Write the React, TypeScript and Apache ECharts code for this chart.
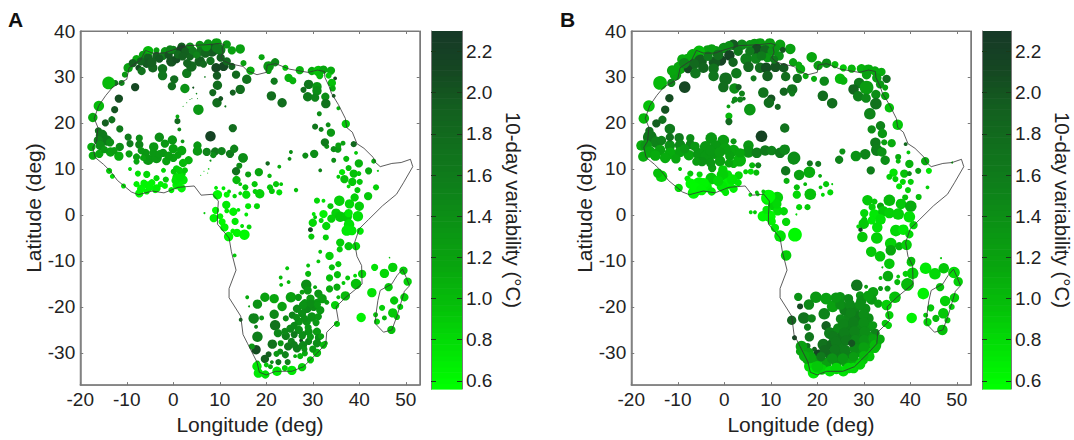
import React, { useEffect, useRef } from "react";
import * as echarts from "echarts";

type Station = [number, number, number, number]; // lon, lat, marker diameter, 10-day variability

const colorStops = ["#00ff00", "#02e005", "#05c009", "#08a60e", "#0b9414", "#0e801a", "#11701d", "#135f1f", "#154622", "#163828"];
const lonTicks = [-20, -10, 0, 10, 20, 30, 40, 50];
const latTicks = [-30, -20, -10, 0, 10, 20, 30, 40];
const barTicks = [0.6, 0.8, 1.0, 1.2, 1.4, 1.6, 1.8, 2.0, 2.2];
const barMin = 0.56;
const barMax = 2.3;
const barLevels = 64;

const coast: [number, number][] = [
  [-6, 35.8], [-4.5, 35.2], [-2, 35.2], [0, 35.9], [3, 36.8], [7, 37], [10, 37.3], [11, 37], [10.5, 36.4], [10.7, 35.3], [10.2, 34.2], [11, 33.4], [12.5, 32.8], [15, 32.3], [16, 31.3], [18, 30.5], [20, 31], [20.2, 32.6], [22, 32.9], [25, 31.7], [29, 31], [31, 31.5], [32.5, 31.2], [32.6, 29.9], [33.5, 28], [34, 26.5], [35.5, 24], [37, 21], [37.3, 19], [38.5, 18], [39.5, 15.5], [41, 14.5], [43, 12.5], [43.4, 11.5], [44.5, 10.5], [47, 11.2], [49, 11.4], [51, 12.1], [51.5, 10.5], [49.5, 7], [48, 4.5], [45, 2], [42, -1], [40, -3], [39, -6], [39.5, -9], [40.5, -11], [40.6, -15], [37, -18], [35, -20], [35.5, -23], [33, -25.5], [32.8, -28], [31, -30], [28, -33], [25.5, -34], [22, -34], [20, -34.8], [18.5, -34.2], [18, -32], [16, -28], [15, -26], [14.5, -22], [12, -18], [12, -16], [13.5, -12], [12.5, -8], [12, -5], [9.5, -2], [9.5, 0], [9.7, 3], [8.5, 4.5], [6, 4.3], [4.5, 6.3], [1, 6], [-2, 4.8], [-4.5, 5.2], [-7.5, 4.4], [-9, 5], [-12, 7.5], [-13.5, 9.5], [-15, 11], [-16.8, 12.5], [-17.3, 14.7], [-16.5, 16], [-16.2, 19], [-17, 21], [-16, 23.8], [-14.5, 26], [-13, 27.8], [-10, 29.5], [-9.5, 32], [-7, 33.7], [-6, 35.8],
];
const madagascar: [number, number][] = [
  [49.3, -11.8], [50.1, -13.6], [50.8, -15.4], [49.7, -16.6], [49, -19], [48.1, -22], [47, -25], [45.2, -25.5], [43.4, -23.6], [43.6, -21.5], [44, -18.6], [44.5, -16.4], [47, -15], [48.1, -13.2], [49.3, -11.8],
];

const northA: Station[] = [
  [9.3, 37.3, 9, 1.25], [7.5, 37.3, 7, 1.3], [5.7, 37, 7, 1.3], [3.6, 36.6, 7, 1.4], [1.8, 36.6, 7, 1.9], [0, 35.9, 7, 1.55], [-1.8, 35.6, 7, 1.3], [-3.6, 35.8, 5, 1.2], [-5.4, 35.6, 9, 1.0], [-6.5, 34.8, 7, 1.25], [-7.9, 33.9, 7, 1.1], [-9.7, 32, 8, 1.2], [-10.4, 30.5, 5, 1.3], [-12.5, 28.7, 5, 1.7], [-11.1, 28.7, 5, 1.5], [-13.9, 28.7, 11, 1.0], [-16, 23.7, 9, 1.0], [-17.3, 21.2, 8, 1.1], [-11.7, 25.3, 7, 2.05], [-8.2, 27.8, 7, 2.1], [-12.6, 22.9, 6, 2.0], [-13.2, 20.7, 6, 1.7], [-14.6, 20, 6, 1.9], [-11.5, 18.7, 6, 1.6], [-16.1, 18.3, 6, 1.7],
  [1.8, 35.9, 9, 2.1], [-0.4, 33.4, 9, 2.0], [0.7, 33.9, 7, 2.05], [3.6, 34.5, 7, 1.85], [5.7, 33.4, 9, 1.9], [8.3, 35.8, 11, 1.95], [5.9, 35.6, 8, 1.7], [10.1, 35.9, 9, 1.6], [-5.4, 34.1, 8, 1.9], [-7.5, 32, 5, 2.05], [-5.7, 33, 8, 1.95], [-4.4, 32, 8, 1.85], [-6.8, 31.3, 7, 1.7], [-2.3, 31.8, 8, 1.7], [-2.3, 30.3, 8, 1.65], [2.9, 30.8, 8, 1.6], [3.9, 32.3, 9, 1.8], [0.2, 29.5, 7, 1.75], [-0.3, 28, 7, 1.75], [2.5, 27.5, 8, 1.35],
  [4.3, 27.7, 2, 2.0], [5, 26.4, 1.5, 1.5], [4, 25.3, 1, 1.4], [3.6, 25.1, 1, 1.4], [5.2, 25.3, 1, 1.4], [2.1, 23.6, 1, 1.2], [2.9, 24.4, 1, 1.2], [5.4, 22.9, 9, 1.3], [0.9, 21.4, 3, 1.1], [0.9, 20.4, 5, 1.8], [1.3, 18.6, 3, 1.4],
  [9.2, 32, 8, 2.1], [10.8, 32.3, 8, 2.1], [12.6, 32.3, 6, 1.9], [9.4, 30.3, 7, 1.95], [13.5, 30.5, 7, 1.8], [15.8, 29.5, 8, 1.7], [9.5, 28.2, 8, 1.75], [14.4, 27.3, 8, 1.75], [12.8, 26.6, 5, 1.9], [8.5, 26.6, 6, 1.8], [9.4, 24.4, 8, 1.75], [10.2, 25.3, 4, 2.0], [15.1, 33, 5, 1.2], [16.6, 31.4, 7, 1.1], [11.2, 23.6, 2, 1.6], [6.8, 30, 1.5, 1.6],
  [19, 34.3, 5, 1.15], [14.4, 36.1, 8, 1.2], [12.6, 35.8, 7, 1.2], [11.5, 37.1, 7, 1.3], [20.5, 32.3, 9, 1.3], [21.9, 33.2, 7, 1.45], [20.5, 31.3, 5, 1.25], [24.1, 32, 5, 0.95], [27.2, 31.5, 7, 1.05], [29.8, 31.3, 7, 1.1], [31.2, 31.3, 9, 0.95], [32.3, 31.6, 7, 1.15], [33.9, 31.4, 7, 1.1], [31.5, 30.3, 6, 1.0], [33.4, 30.3, 5, 0.9], [34.8, 29.7, 3, 2.1], [34.1, 28.7, 7, 0.95], [34.3, 27.5, 5, 1.1], [34.5, 25.9, 3, 1.9],
  [21.7, 29.1, 6, 1.6], [24.8, 29.8, 7, 1.05], [25.7, 29.2, 6, 1.05], [29.1, 28.4, 8, 1.65], [28, 27.2, 5, 1.75], [30.9, 27.9, 8, 1.3], [30.9, 27, 8, 1.4], [28.9, 25.7, 8, 1.6], [30.5, 25.5, 7, 1.5], [32.7, 25.7, 7, 1.4], [32.8, 24.2, 8, 1.7], [21.1, 25.9, 8, 1.75], [23.4, 24.4, 8, 1.75], [35.5, 23.2, 3, 1.05], [31.4, 22, 4, 1.4], [37.1, 19.8, 7, 0.9], [30.5, 19.2, 5, 1.65], [31.8, 18.6, 4, 1.5], [33.3, 19.6, 4, 1.4], [33.9, 17.9, 7, 1.3], [12.8, 18.9, 7, 1.75], [8, 17.1, 9, 2.15],
  [-3.6, 34.6, 7, 1.9], [-2.2, 34.6, 7, 1.6], [-1, 34.8, 7, 2.0], [1, 34.9, 7, 1.8], [2.6, 35.6, 7, 1.9], [4.2, 35.7, 7, 1.6], [6.9, 35.2, 8, 1.85], [7.1, 36.6, 8, 1.3], [9.3, 36.3, 8, 1.6], [10.2, 34.2, 7, 1.9], [11.5, 33.4, 7, 1.8], [-7, 33.4, 7, 1.85], [-8.7, 33, 7, 1.9],
  [-0.7, 36, 7, 1.5], [-3, 34, 7, 1.95], [-4.6, 33.2, 8, 1.9], [2, 34.5, 7, 1.9], [3, 33, 7, 1.85], [6.5, 32.8, 6, 1.8], [8, 33.5, 7, 1.7], [5, 34.8, 6, 1.5],
];
const westA: Station[] = [
  [-15.4, 17.3, 10, 1.6], [-14.3, 16.2, 9, 1.6], [-16.1, 16.2, 8, 1.5], [-15.7, 15.1, 8, 1.4], [-13.6, 15.8, 7, 1.4], [-17.6, 14.8, 7, 1.1], [-9.7, 16.9, 6, 1.6], [-11.5, 14.8, 7, 1.4], [-9.3, 15.5, 6, 1.6], [-7.3, 16.7, 6, 1.4], [-7.3, 15.3, 7, 1.5], [-3, 16.9, 8, 1.4], [-0.2, 16.3, 8, 1.3], [2, 16, 3, 1.3], [-4.2, 14.8, 8, 1.3], [-1.8, 15.5, 7, 1.3], [0, 14.4, 8, 1.2], [1.8, 14, 8, 1.15], [5.2, 15.1, 7, 1.3], [5.2, 13.9, 8, 1.3], [7.2, 13.7, 7, 1.5], [9, 13.8, 7, 1.6], [10.4, 13.9, 7, 1.5], [8.6, 13, 5, 1.4], [12.2, 13.3, 7, 1.6], [13.1, 14.4, 7, 1.5],
  [-15.9, 13.3, 7, 1.15], [-17.3, 12.9, 7, 1.1], [-13.5, 13.7, 8, 1.2], [-11.7, 12.8, 8, 1.1], [-9.5, 13.3, 6, 1.2], [-7.9, 12.6, 6, 1.2], [-6, 13.5, 7, 1.3], [-5.4, 12, 9, 1.3], [-3.6, 12.4, 9, 1.3], [-2.2, 13.5, 7, 1.3], [-4.3, 13.5, 7, 1.3], [-1.5, 11.7, 7, 1.2], [0, 12.4, 7, 1.2], [3.3, 11.9, 7, 1.05], [2.1, 11.3, 7, 1], [-7.9, 11.6, 5, 1.15], [-6.5, 12.4, 5, 1.2], [15, 12.4, 8, 1.4],
  [-14.8, 14.2, 6, 1.3], [-12.7, 14, 6, 1.25], [-3, 13.2, 7, 1.3], [-1, 12.9, 7, 1.25], [-6.9, 14, 6, 1.3], [1, 13, 6, 1.2],
  [-7.6, 9, 5, 0.75], [-5.7, 8.8, 6, 0.8], [-3.6, 8, 5, 0.8], [-1.6, 7.7, 5, 0.9], [-9.3, 10, 3, 0.8], [-13.1, 8.4, 4, 0.75], [-13.8, 9.6, 5, 0.9], [-7.9, 6.7, 5, 0.65], [-5.4, 6.4, 7, 0.62], [-6.9, 5.7, 7, 0.6], [-3.6, 5.8, 7, 0.65], [-1.8, 6.3, 5, 0.65], [0.7, 10, 6, 0.85], [1.8, 9, 7, 0.8], [0.7, 8.2, 7, 0.75], [2.1, 7.6, 8, 0.7], [0.7, 6.5, 7, 0.65], [1.8, 5.8, 7, 0.62], [-0.4, 5.4, 5, 0.68], [-7.3, 4.7, 7, 0.62], [-5.7, 5.1, 5, 0.65], [-3.9, 5.4, 5, 0.65], [-10.7, 6.3, 4, 0.8], [0.1, 9.4, 5, 0.9], [2.5, 9.7, 5, 0.9], [-2.1, 9.7, 4, 0.8], [6.6, 9.5, 1, 0.9], [7.4, 9.1, 1, 0.9], [5.9, 8.6, 1, 0.9], [7.6, 10, 1.5, 0.9], [8, 11.8, 2, 1.3],
  [-5, 6, 6, 0.62], [-6.3, 6.9, 6, 0.62], [-4.6, 7, 6, 0.62], [-2.7, 6.7, 5, 0.65], [1.2, 7, 7, 0.68], [0.5, 7.5, 7, 0.72], [1.5, 8.2, 7, 0.75], [1.3, 9.7, 6, 0.85],
];
const centralA: Station[] = [
  [15, 12.4, 8, 1.4], [14.2, 10.7, 5, 1.4], [13.5, 9.5, 7, 1.7], [20.3, 11.2, 3.5, 1.8], [22.8, 10.5, 3, 1.1], [16.1, 8.8, 5, 1.2], [18.4, 9.3, 7, 1.15], [20.7, 8.5, 3.5, 1.0], [13.6, 7.6, 7, 1.0], [14.4, 6.7, 3, 0.9], [17.5, 6.7, 5, 0.9], [15.5, 6, 5, 0.9], [22.1, 6.7, 5, 0.9], [23.2, 6.7, 3, 0.9], [20.8, 6, 5, 0.9], [21.2, 5.2, 5, 0.9], [22.8, 4.9, 5, 0.75], [18.6, 4.6, 8, 0.85], [15.7, 4.4, 7, 0.75], [17.6, 5.1, 4, 0.85], [14.4, 4.7, 3, 0.8], [13.2, 4.1, 3.5, 0.8], [12, 5.1, 3, 0.8], [10.8, 5.8, 3, 0.7], [9.2, 5.9, 3, 0.7], [9.5, 4.4, 8, 0.6], [11.5, 4.4, 5, 0.62], [11.4, 2.2, 7, 0.7], [11.5, 0.9, 4, 0.7], [12.9, 0.7, 7, 0.65], [14, 1.1, 3, 0.7], [16.1, 1.9, 5, 0.7], [18, 1.9, 5, 0.8], [15.7, 0.1, 3, 0.7], [13.3, -1.4, 6, 0.7], [9.1, 1, 6, 0.6], [8.7, -0.7, 7, 0.65], [10.1, -0.3, 5, 0.62], [10.5, -1.5, 6, 0.6], [11, -2.7, 7, 0.62], [15.3, -4.3, 9, 0.6], [13.7, -3.9, 7, 0.62], [12.8, -3.5, 4, 0.62], [11.9, -4.7, 8, 0.6], [16.3, -2.6, 4, 0.8], [14.8, -2.4, 3, 0.75], [13.2, -8.8, 3, 0.9], [6.7, 0.4, 2, 0.9], [26.4, 5.4, 3.5, 0.95],
];
const eastA: Station[] = [
  [30.3, 13.3, 7, 1.4], [28.4, 12.9, 5, 1.4], [25, 12.2, 3, 1.4], [25.3, 13.7, 3, 1.4], [31.6, 9.7, 3, 1.5], [34.5, 11.9, 4, 1.4], [37.2, 12.2, 5, 1.0], [39.3, 13.5, 3, 0.9], [39.9, 11.2, 7, 1.05], [37.7, 10.2, 5, 0.95], [42, 9.6, 6, 1.1], [43.1, 11.7, 4, 1.1], [44, 9.6, 2, 0.9], [36.3, 9.3, 5, 0.7], [38.8, 9, 7, 0.95], [39.9, 9, 4, 0.9], [35.5, 8.3, 3, 0.9], [36.8, 7.8, 7, 0.95], [38.5, 7.2, 7, 0.9], [40.1, 7.2, 5, 0.9], [37.7, 6.2, 3, 0.8], [39.6, 5.4, 5, 0.9], [43.6, 6, 5, 0.85], [41.9, 4.1, 7, 0.9], [39, 3.8, 7, 0.85], [35.7, 3.1, 9, 0.85], [37.9, 2.4, 8, 0.8], [40, 1.9, 8, 0.85], [30.9, 3.1, 5, 0.8], [32.3, 3.1, 3, 0.75], [33.8, 1.9, 5, 0.9], [32.3, 0.2, 7, 0.65], [30.2, 0.2, 3, 0.7], [30.5, -0.5, 3, 0.9], [35, 0.4, 8, 0.85], [35.9, -0.4, 9, 0.9], [37.3, -0.4, 9, 0.9], [39.7, -0.3, 9, 0.75], [37.7, 0.4, 7, 0.7], [31.8, -1.2, 4, 0.8], [30, -1.7, 7, 0.8], [32.9, -2.4, 7, 0.8], [34, -0.8, 7, 0.85], [29.5, -3.2, 4, 2.1], [37.8, -2.1, 9, 0.75], [37.3, -3.4, 9, 0.7], [38.4, -3.4, 8, 0.7], [40.2, -3.5, 6, 0.7], [29.7, -4.7, 5, 0.9], [32.8, -4.9, 5, 0.85], [35.9, -6, 7, 0.85], [37.7, -6.8, 7, 0.9], [35.8, -7.5, 5, 0.85], [39.3, -6.8, 7, 0.8], [31.6, -8, 3, 0.9], [33.6, -8.9, 7, 0.85], [31.2, -10.1, 3, 0.9], [34.5, 14.3, 5, 1.4], [33, 14.9, 4, 1.35], [35.4, 14.3, 6, 1.3], [35.5, 15.1, 5, 1.2], [36.5, 15.6, 4, 1.2], [32.6, 15.8, 7, 1.6], [38.8, 15.4, 5, 1.8],
];
const southA: Station[] = [
  [35.5, -10.7, 5, 0.9], [29, -11, 3, 0.95], [34.1, -11.4, 5, 0.95], [24.5, -11.6, 3, 0.9], [40.6, -12.8, 7, 0.8], [35.3, -13, 6, 0.95], [33.6, -13.7, 6, 0.95], [29, -12.8, 5, 1.0], [23.1, -13.6, 3, 1.0], [24.8, -14.6, 3, 1.0], [23.2, -15.2, 3, 1.0], [37.5, -13.7, 4, 0.9], [39.1, -13.2, 3, 0.8], [39.3, -15, 9, 0.95], [36.6, -14.8, 3, 0.9], [35.2, -15.7, 6, 1.1], [33.6, -16.1, 6, 1.1], [30.5, -15.7, 3, 1.1], [28.6, -15.2, 9, 1.4], [28.9, -16.4, 7, 1.3], [27.7, -16.8, 4, 1.2], [37, -17.6, 8, 1.0], [35.5, -17.9, 3, 1.0], [34.8, -19.6, 7, 0.85], [29.5, -18.2, 7, 1.25], [31.2, -17.1, 7, 1.3], [32, -18.2, 8, 1.25], [33, -19, 4, 1.2], [25.3, -17.9, 9, 1.2], [26.9, -17.9, 6, 1.3], [21.7, -18.2, 8, 1.15], [19.7, -17.9, 8, 1.2], [23.4, -19.9, 8, 1.2], [18.1, -19.4, 8, 1.35], [15.9, -17.9, 3, 1.1], [16.3, -19.9, 2, 1.2],
  [26.6, -20.4, 7, 1.4], [28.7, -20.2, 9, 1.45], [30.2, -20, 7, 1.4], [31.6, -20.7, 7, 1.3], [27.7, -21.4, 7, 1.4], [29.8, -22.2, 8, 1.35], [30.7, -23.4, 6, 1.3], [28.7, -23.2, 7, 1.35], [27, -23.2, 7, 1.35], [25.2, -24.7, 7, 1.45], [27, -25, 7, 1.4], [29.1, -25.4, 7, 1.35], [30.9, -25.4, 7, 1.25], [35.2, -23.7, 5, 0.9], [21.7, -21.6, 8, 1.45], [17.3, -22.5, 9, 1.5], [19, -22.4, 4, 1.3], [14.5, -22.8, 3, 1.8], [17.8, -24.3, 3, 1.5], [21.9, -24, 9, 1.7], [22.5, -25.7, 7, 1.45], [18.1, -26.5, 9, 1.55], [21.3, -28.1, 8, 1.7], [23.1, -27.9, 5, 1.3], [24.7, -28.6, 7, 1.6], [26.6, -29, 7, 1.55], [28, -26.5, 3, 2.1], [27.5, -27.3, 3, 2.1], [29.1, -27.5, 6, 1.5], [30.9, -27.9, 7, 1.4], [32.7, -27.9, 4, 1.0], [23, -29.7, 5, 1.4], [24.1, -30.4, 6, 1.5], [20.5, -30.3, 5, 1.9], [17.8, -29.3, 8, 2.05], [16.9, -28.6, 5, 1.3], [19.7, -31.3, 7, 1.9], [22.6, -32, 5, 1.6], [24.6, -32, 5, 1.5], [21.2, -32, 3, 1.4], [20.9, -33, 4, 1.1], [18.1, -32.2, 4, 1.1], [18, -32.9, 8, 0.7], [18.3, -34.4, 8, 0.7], [19.8, -34.7, 7, 0.75], [22.3, -34, 8, 0.7], [25.5, -33.8, 8, 0.7], [27.7, -33.1, 7, 0.85], [29.5, -31.5, 6, 0.9], [30.9, -30, 7, 1.0], [32.3, -28.3, 6, 1.0], [27.3, -30.7, 5, 1.0], [26.2, -30.7, 3, 1.1],
  [25.6, -21.8, 6, 1.5], [24.2, -22.5, 5, 1.4], [28.3, -19.2, 7, 1.35], [30.9, -19, 6, 1.3], [26, -26, 6, 1.6], [24.2, -26.3, 7, 1.55], [28, -25.9, 5, 1.4], [25.4, -27.5, 6, 1.5], [27.9, -28.3, 7, 1.45], [30, -29.2, 6, 1.3], [28.3, -30.1, 5, 1.1], [22.2, -30.2, 5, 1.3], [20, -32.6, 4, 0.9], [24, -33.3, 5, 0.85], [31.2, -26.7, 6, 1.4],
  [27.9, -19.6, 7, 1.35], [29.6, -19.3, 7, 1.4], [31, -19.5, 6, 1.3], [26.5, -22.3, 6, 1.4], [28.2, -22.5, 6, 1.4], [31.2, -22.1, 6, 1.3], [29, -24.5, 6, 1.3], [26, -24, 6, 1.45], [24, -25.3, 6, 1.45], [27.7, -26.3, 6, 1.4], [29.5, -26.5, 6, 1.3], [26, -28.2, 6, 1.55], [28.2, -29.2, 5, 1.35], [31.8, -26.4, 5, 1.2],
];
const madagascarA: Station[] = [
  [43.3, -11.4, 6, 0.75], [45.4, -12.7, 8, 0.8], [47.2, -11.4, 8, 0.85], [46.5, -9.3, 1.5, 0.9], [49.5, -12.1, 7, 0.9], [50.4, -14.5, 7, 0.85], [46.3, -15.7, 7, 0.9], [42.7, -16.9, 8, 0.75], [49.7, -17.9, 7, 0.85], [47.5, -18.6, 7, 0.9], [44.9, -20.2, 5, 0.85], [47.2, -21.3, 8, 0.9], [40.4, -22.3, 8, 0.65], [43.5, -21.7, 4, 0.9], [45.4, -22.4, 4, 1.0], [43.8, -23.2, 5, 0.85], [46.9, -25, 7, 0.95], [48.8, -20, 5, 0.85], [48.1, -22.2, 5, 0.9],
];

const northB: Station[] = [
  [-13.8, 28.7, 12, 1.0], [-16.2, 23.7, 10, 0.95], [-17.3, 21, 9, 1.0], [-11.8, 25.4, 7, 2.05], [-8.5, 27.8, 10, 2.1], [-12.7, 22.9, 7, 2.0], [-13.3, 20.7, 7, 1.7], [-14.6, 19.9, 7, 1.9], [-11.7, 18.7, 9, 1.6], [-16.1, 18.3, 7, 1.7],
  [14.2, 36.1, 9, 1.2], [12, 37, 9, 1.2], [9.8, 37.3, 9, 1.25], [7.7, 37.3, 9, 1.25], [5.5, 37, 8, 1.3], [3.8, 37, 9, 1.45], [1.9, 37, 9, 1.95], [-0.1, 36.3, 9, 1.4], [-1.8, 35.6, 9, 1.3], [-3.6, 35.9, 8, 1.2], [-5.4, 35.6, 10, 1.0], [-6.8, 34.8, 10, 1.1], [-7.9, 33.9, 9, 1.1], [-9.6, 32, 11, 1.15], [-10.5, 30.5, 10, 1.2], [-11.4, 28.7, 7, 1.5],
  [-9, 33.8, 9, 1.1], [-11.2, 31.4, 9, 1.15], [-2.7, 36.1, 8, 1.2], [1, 36.8, 8, 1.4], [6.5, 37.3, 8, 1.3], [11, 36.2, 8, 1.3], [11.8, 34.6, 8, 1.35], [16, 32.6, 6, 1.1], [12.6, 35.9, 5, 2.0],
  [7, 35.9, 10, 2.05], [8.8, 35.8, 9, 1.8], [1.1, 34.7, 9, 2.15], [-0.7, 33.6, 9, 2.15], [-2.1, 33.2, 10, 1.95], [1.9, 33.2, 8, 1.85], [4.7, 33.9, 10, 1.55], [6.8, 34, 9, 1.5], [9.3, 34.2, 8, 1.3], [-5.1, 33.5, 11, 1.9], [-6.5, 32.8, 9, 1.8], [-7.8, 31.7, 7, 2.1], [-4.5, 32, 9, 1.85], [-6.2, 30.8, 9, 1.65], [-2.3, 31.8, 9, 1.7], [-2.3, 30.2, 9, 1.65], [0.3, 29.6, 11, 1.75], [-0.2, 27.8, 9, 1.75], [2.2, 27.5, 9, 1.4], [2.6, 30.8, 9, 1.6], [5.2, 32.2, 9, 1.8], [6.3, 29.7, 5, 1.6], [3.1, 27.8, 5, 1.9], [3.8, 26.4, 5, 1.5], [2.3, 25.1, 5, 1.4], [3.4, 25.1, 5, 1.5], [4.2, 25.3, 3, 1.6], [0.9, 23.6, 3, 1.2], [1.9, 24.6, 3, 1.5], [5.5, 22.9, 10, 1.3], [1, 21.5, 6, 1.0], [1, 20.3, 6, 1.8], [13, 18.9, 8, 1.7], [8, 17.1, 10, 2.15],
  [7.7, 32, 9, 1.75], [9, 32, 9, 2.05], [11, 32.2, 9, 2], [12.8, 32, 8, 1.95], [9.3, 30.2, 9, 1.9], [13.2, 30.1, 8, 1.75], [15.7, 29.7, 8, 1.7], [8.4, 26.6, 9, 1.7], [10.1, 25.3, 7, 2.0], [9.6, 24.4, 9, 1.75], [12.8, 26.8, 7, 1.85], [14.6, 27.3, 9, 1.7], [14.6, 26.4, 5, 1.6], [11.5, 23.5, 5, 1.85],
  [14.8, 33.2, 7, 1.2], [16.4, 31.7, 8, 1.1], [17.5, 30.2, 5, 1.1], [18.8, 34.3, 9, 1.15], [20.2, 32.5, 8, 1.25], [22, 33, 8, 1.4], [19.3, 29.6, 5, 1.1], [21.5, 29.1, 8, 1.45], [24.9, 29.6, 9, 1.0], [25.6, 29.2, 7, 1.05], [23.8, 32.7, 6, 1.0], [25.6, 32, 6, 0.9], [27.4, 31.8, 7, 1.0], [29.5, 31.8, 8, 1.05], [31, 31.6, 9, 1.1], [32.4, 31.3, 8, 1.1], [33.8, 31.1, 7, 1.1], [30.6, 30.5, 8, 1.2], [32.8, 29.8, 8, 1.2], [34.9, 29.6, 7, 1.75], [33.5, 28.4, 7, 1.3], [34.6, 27.7, 5, 1.2], [34.6, 25.9, 7, 1.15], [35.5, 23.3, 8, 0.95], [37.3, 19.6, 9, 0.9],
  [29, 28.7, 9, 1.6], [27.8, 27.3, 9, 1.85], [30.6, 27.7, 12, 1.25], [28.8, 25.8, 9, 1.55], [30.5, 25.4, 8, 1.45], [32.6, 26.2, 8, 1.4], [32.6, 24.2, 10, 1.7], [31.3, 22, 10, 1.5], [21.2, 25.9, 9, 1.75], [23.2, 24.3, 9, 1.75],
  [-3.5, 34.5, 8, 1.6], [-1.3, 34.8, 9, 1.75], [3, 35.6, 8, 1.6], [5.5, 35.6, 8, 1.6], [8, 34.6, 8, 1.6], [10.3, 35.6, 8, 1.35], [10.7, 33.8, 7, 1.6], [-8.6, 33, 9, 1.5],
];
const westB: Station[] = [
  [-16, 16.9, 12, 1.65], [-14.6, 15.8, 10, 1.5], [-13.5, 16.2, 8, 1.5], [-17.8, 15.1, 9, 1.1], [-16.8, 15.1, 10, 1.3], [-16, 13.7, 10, 1.15], [-17.4, 12.7, 9, 1.1], [-13.8, 14.1, 9, 1.2], [-11.7, 15.1, 9, 1.35], [-11.7, 16.9, 7, 1.7], [-9.7, 16.8, 8, 1.6], [-9.5, 15.2, 9, 1.45], [-7.3, 16.7, 7, 1.4], [-7.3, 15.3, 8, 1.5], [-2.8, 16.7, 10, 1.3], [-0.2, 16.2, 10, 1.25], [2, 16, 5, 1.3], [-4, 14.8, 10, 1.3], [-1.8, 15.1, 9, 1.3], [0.2, 14.4, 10, 1.2], [2, 14, 10, 1.15], [5.2, 15.1, 9, 1.3], [5.2, 13.7, 10, 1.35], [7, 13.5, 9, 1.55], [8.8, 14, 9, 1.6], [10.2, 14, 8, 1.5], [12, 13.5, 9, 1.6], [13, 14.2, 9, 1.45], [15, 12.4, 11, 1.4], [13.2, 9.6, 8, 1.65], [18.4, 11.2, 5, 1.65],
  [-11.6, 13.4, 10, 1.1], [-9.5, 13.7, 9, 1.2], [-7.6, 13, 9, 1.15], [-5.5, 13.3, 10, 1.3], [-3.7, 12.6, 12, 1.3], [-2, 13.3, 9, 1.3], [-4.8, 11.6, 8, 1.35], [-2.6, 10.2, 7, 1.25], [-0.9, 11.7, 9, 1.2], [1.2, 12.8, 8, 1.2], [3.3, 11.9, 11, 1.05], [2, 11.1, 7, 1.05], [0.6, 14, 7, 1.2],
  [-14.8, 12.9, 9, 1.1], [-12.7, 12.4, 9, 1.1], [-10.4, 12.2, 8, 1.15], [-8.5, 14.4, 8, 1.3], [-6.3, 14.9, 8, 1.3], [-3, 14, 9, 1.3], [-1, 13.6, 9, 1.25], [3.4, 13.5, 8, 1.15], [-6, 11.6, 7, 1.25], [-2.9, 11.3, 8, 1.3], [1, 11.2, 7, 1.15],
  [-13.5, 8.4, 10, 0.85], [-14.3, 9.1, 8, 0.95], [-7.3, 9, 5, 0.9], [-5.3, 8.8, 5, 0.8], [-9.5, 10, 3, 0.9], [-0.3, 9.8, 8, 0.85], [0.7, 8.7, 8, 0.75], [3.1, 8.6, 7, 0.8], [4.6, 9.4, 4, 0.85], [5.7, 9.4, 5, 0.75], [6, 10.8, 5, 1.0], [-2.8, 7.9, 10, 0.9], [-0.4, 8.7, 10, 0.85], [0.8, 6.8, 10, 0.65], [2, 5.7, 7, 0.65], [-0.5, 6.2, 9, 0.7], [-7.9, 7.9, 5, 0.7], [-5.4, 6.7, 12, 0.62], [-7.2, 6.8, 9, 0.6], [-3.8, 6.1, 9, 0.65], [-2.7, 5.1, 7, 0.7], [-6.6, 4.8, 10, 0.62], [-0.1, 5.6, 7, 0.7], [-9.8, 5.9, 7, 0.8],
  [-4.4, 6.9, 9, 0.62], [-6.2, 5.9, 9, 0.6], [-4.9, 5.4, 9, 0.62], [-1.3, 7.4, 9, 0.8], [1.7, 7.7, 9, 0.72], [0.3, 4.9, 6, 0.7], [3, 7, 6, 0.72],
];
const centralB: Station[] = [
  [5.6, 4.4, 3, 0.8], [7.2, 4.5, 3, 0.75], [9.3, 3.6, 11, 0.7], [11.4, 3.8, 10, 0.85], [10.4, 2, 8, 0.85], [11.5, 0.9, 8, 0.75], [5.7, 0.6, 3, 0.8], [14.9, 12.2, 10, 1.4], [16.1, 8.7, 9, 1.2], [18.3, 9.3, 10, 1.1], [20.2, 11.1, 5, 1.6], [20.6, 8.5, 3, 1.1], [13.4, 7.4, 5, 1.05], [17.4, 6.7, 3, 1], [15.6, 6, 5, 0.95], [21.9, 6.7, 5, 0.9], [23.2, 6.7, 2, 0.9], [20.7, 6, 3, 0.9], [21.2, 4.4, 3, 0.8], [22.8, 4.9, 5, 0.8], [18.5, 4.5, 10, 0.95], [15.6, 4.4, 7, 0.8], [16.1, 1.7, 5, 0.8], [17.9, 1.7, 5, 0.9], [15.5, 0.1, 2, 0.8], [12.8, 0.8, 7, 0.8], [6.6, 0.6, 3, 0.9], [13.3, -1.5, 7, 0.8], [15.2, -4.3, 12, 0.6], [12, -4.6, 10, 0.75], [13.3, -8.8, 9, 0.85], [9.5, 4, 12, 0.6], [11.3, 2.4, 8, 0.8], [7, 4.9, 3, 1], [8.4, 5.1, 3, 0.9], [8.3, -0.3, 9, 0.62], [9.8, -0.3, 10, 0.62], [9.1, 1.1, 7, 0.7], [10.2, -1.4, 7, 0.65], [10.9, -2.8, 7, 0.7], [7.3, 10.8, 5, 1.5], [6.9, 9.2, 5, 1.0],
];
const eastB: Station[] = [
  [30.3, 13.2, 9, 1.5], [28.3, 12.8, 9, 1.35], [24.7, 12, 7, 1.5], [25.4, 13.8, 5, 1.35], [31.5, 9.7, 7, 1.55], [33.6, 19.4, 8, 1.5], [31.7, 18.6, 7, 1.4], [34, 17.7, 8, 1.3], [32.5, 15.7, 9, 1.6], [36, 15.6, 7, 1.1], [34.4, 15.8, 5, 1.2], [32.8, 14.1, 10, 1.55], [33.9, 13.7, 8, 1.35], [34.6, 11.9, 8, 1.4], [39, 15.4, 3, 1.8], [39.6, 13.6, 3, 0.9], [37.4, 12.6, 5, 1.1], [37.4, 11.7, 4, 1.0],
  [39.8, 11.1, 7, 1.05], [36.4, 9.2, 7, 0.72], [38.7, 9, 7, 0.95], [39.8, 9, 4, 1.4], [41.7, 9.6, 5, 1.2], [44, 9.6, 5, 0.7], [43.2, 11.7, 7, 1.1], [49, 11.4, 2, 1.0], [35.5, 8.3, 5, 0.85], [36.8, 7.8, 5, 0.85], [38.4, 7.2, 5, 0.8], [40.1, 7.2, 5, 0.85], [37.6, 6.2, 5, 0.75], [39.5, 5.4, 5, 0.85], [43.7, 6, 3, 0.85], [41.8, 3.9, 5, 0.95], [38.9, 3.8, 5, 0.95], [38, 2.4, 9, 0.9], [40.1, 1.9, 10, 1.1], [35.5, 3.2, 10, 1.0], [30.8, 3.2, 9, 0.9], [32.3, 2.9, 5, 0.9], [33.6, 1.9, 6, 1.15], [31.8, 1.7, 6, 0.85], [30.1, 0.4, 7, 0.8], [32.3, 0.1, 9, 0.7], [34.2, 0.8, 9, 0.9], [35.5, 0.4, 9, 0.85], [37.4, 0.2, 10, 0.85], [39.8, -0.4, 10, 0.75], [30.1, -1, 5, 0.9], [30, -1.9, 9, 0.9], [31.7, -1.2, 7, 0.7], [33.6, -1, 9, 0.75], [32.9, -2.7, 9, 0.75], [36.9, -3.4, 10, 0.8], [38.5, -3.2, 9, 0.7], [40.7, -2.2, 7, 0.85], [39.8, -4.2, 7, 0.8], [28.8, -2.5, 3, 0.8], [29.3, -3.2, 3.5, 2.2], [29.7, -4.8, 9, 0.9], [32.8, -5, 10, 0.85], [35.8, -6.2, 10, 0.85], [37.6, -6.8, 7, 1.05], [39.2, -6.5, 9, 0.85], [35.8, -7.7, 9, 1.1], [31.6, -8, 9, 0.9], [33.5, -9, 9, 0.9], [35.5, -10.6, 9, 0.9], [40.1, -10.3, 7, 0.85],
];
const southB: Station[] = [
  [28.5, -15.3, 10, 1.65], [30.5, -15.6, 3, 1.2], [29.2, -17.5, 7, 1.3], [24.9, -17.9, 9, 1.35], [26.7, -18.2, 8, 1.45], [32, -16.8, 9, 1.2], [29.5, -18.6, 9, 1.4], [31.7, -18.4, 9, 1.3], [33.1, -19.3, 7, 1.2], [34.9, -19.6, 9, 0.85], [36.7, -17.9, 10, 0.95], [39.4, -15.1, 11, 1], [35.2, -13.3, 9, 1.1], [40.5, -12.7, 10, 0.85], [37.2, -14.6, 5, 1.0], [35.1, -16, 5, 1.2], [33.6, -16, 4, 1.3], [19.7, -17.9, 10, 1.3], [21.9, -18.2, 10, 1.2], [23.3, -19.9, 10, 1.2], [18.2, -19.5, 9, 1.45], [15.9, -17.8, 7, 1.35], [16.3, -19.9, 5, 2.1], [17.1, -22.4, 10, 1.7], [18.8, -22.5, 7, 1.5], [14.5, -22.9, 8, 1.85], [17.9, -24.4, 6, 1.55], [21.5, -21.5, 10, 1.5], [18.3, -26.5, 8, 1.65], [15.1, -26.7, 4, 2.1], [21.9, -24.1, 8, 1.9], [22.7, -25.7, 10, 1.55], [21.3, -28.2, 10, 1.7], [17.9, -28.5, 5, 1.7], [19.4, -29.2, 4, 1.9], [20.2, -30.4, 9, 2.15], [16.6, -28.6, 10, 1.2], [18.1, -30, 9, 1.25], [16.3, -29.7, 7, 1.15],
  [26, -20.7, 10, 1.55], [28.1, -20.4, 9, 1.5], [30.3, -20.4, 9, 1.4], [26.7, -22.5, 9, 1.5], [28.8, -22.2, 10, 1.6], [31, -22.5, 9, 1.4], [24.5, -24.7, 9, 1.45], [26.7, -24.3, 9, 1.55], [28.8, -24.3, 9, 1.45], [31, -24.3, 9, 1.35], [32.4, -25.7, 8, 1.5], [24.9, -26.8, 10, 1.65], [27, -26.1, 10, 1.6], [29.2, -26.1, 9, 1.45], [31, -26.5, 9, 1.3], [23.1, -28.2, 9, 1.8], [25.2, -28.6, 9, 1.55], [29.2, -28.2, 9, 1.4], [31, -28.2, 9, 1.25], [32.8, -27.9, 8, 1.1], [22.7, -30.4, 9, 1.75], [24.9, -30.4, 9, 1.6], [27, -30.8, 9, 1.5], [28.8, -30, 8, 1.3], [31, -30, 9, 1.0], [32.4, -29, 8, 0.95], [22, -32.2, 9, 1.2], [24.2, -32.2, 9, 1.4], [26.3, -32.2, 9, 1.2], [28.1, -31.8, 8, 1.1], [29.9, -31.5, 8, 0.9], [19.9, -31.8, 9, 1.2], [18.4, -32.9, 10, 0.8], [19.2, -34.3, 10, 0.7], [21, -33.6, 9, 0.85], [22.7, -34, 9, 0.75], [25.6, -34, 9, 0.75], [27.8, -33.3, 9, 0.8], [29.2, -32.5, 9, 0.85], [31.3, -30.8, 8, 0.9], [17.7, -31.5, 7, 1.1], [34.6, -23.6, 6, 0.9], [35.3, -24, 6, 0.85], [35.5, -21.8, 7, 0.85],
  [35.8, -7.6, 8, 1.15], [40.2, -10, 7, 1], [39, -12.8, 5, 0.85], [37.4, -13.4, 3, 0.9], [33.6, -13.7, 3, 1.0], [34, -11.4, 2, 1],
  [25, -19.5, 9, 1.4], [27, -19.5, 9, 1.45], [29.2, -19.5, 9, 1.4], [27.2, -21.3, 9, 1.5], [25, -22.6, 8, 1.45], [30, -21.6, 9, 1.4], [25.6, -23.7, 9, 1.5], [27.8, -23.3, 9, 1.55], [30, -23.4, 9, 1.4], [32, -24, 7, 1.3], [23.4, -26.4, 9, 1.6], [25.8, -25.6, 9, 1.55], [28, -25.3, 9, 1.5], [30.2, -25.4, 9, 1.4], [24, -27.6, 9, 1.6], [26.2, -27.3, 9, 1.6], [28.2, -27.2, 9, 1.45], [30.1, -27.2, 9, 1.35], [32, -26.9, 8, 1.2], [21.6, -29.4, 9, 1.8], [23.8, -29.3, 9, 1.6], [26, -29.4, 9, 1.55], [28, -29, 9, 1.4], [30, -28.8, 9, 1.2], [23.2, -31.2, 9, 1.35], [25.5, -31.2, 9, 1.3], [27.8, -30.8, 8, 1.25], [30, -30.6, 8, 1.0], [20.8, -30.8, 8, 1.6], [18.5, -31, 10, 1.15], [17.2, -30.7, 9, 1.1], [20, -33, 10, 0.9], [24.1, -33.4, 10, 0.8], [26.7, -33.3, 9, 0.8], [32.5, -28.4, 10, 1.0], [33.5, -27, 8, 1.1], [24, -18, 9, 1.3], [31, -17.6, 9, 1.2], [27.4, -27.9, 6, 2.0],
];
const madagascarB: Station[] = [
  [43.3, -11.6, 10, 0.7], [45.3, -12.8, 10, 0.8], [47.2, -11.6, 9, 0.9], [49.4, -12.5, 10, 0.8], [50.3, -14.5, 8, 0.85], [46.4, -15.7, 7, 0.95], [42.8, -17.1, 10, 0.65], [49.5, -18, 8, 0.85], [47.5, -18.7, 9, 0.85], [44.4, -20.2, 6, 0.9], [47.1, -21.4, 9, 0.9], [40.3, -22.4, 9, 0.65], [43.3, -21.8, 4, 0.9], [45.5, -22.5, 6, 1], [43.7, -23.3, 7, 0.8], [46.9, -25, 9, 0.95], [48, -22.9, 5, 0.9], [46.6, -9.4, 2, 0.9], [48.9, -20, 5, 0.85],
];

const stationsA = [...northA, ...westA, ...centralA, ...eastA, ...southA, ...madagascarA];
const stationsB = [...northB, ...westB, ...centralB, ...eastB, ...southB, ...madagascarB];

const FONT = "'Liberation Sans', Arial, sans-serif";
const TEXT = "#222";
const FRAME = "#7a7a7a";

const barBands = Array.from({ length: barLevels }, (_, k) => {
  const step = (barMax - barMin) / barLevels;
  return [barMin + k * step, barMin + (k + 1) * step];
});
const colorAt = (v: number) => echarts.color.lerp((v - barMin) / (barMax - barMin), colorStops) as string;

function boundAxis(extra: any, labels: boolean, name: string, ticks: number[], gap: number) {
  return {
    type: "value",
    scale: false,
    splitLine: { show: false },
    axisLine: { show: true, onZero: false, lineStyle: { color: FRAME, width: labels ? 1.5 : 1 } },
    axisTick: { show: true, inside: true, length: 3, customValues: ticks, lineStyle: { color: FRAME } },
    axisLabel: labels
      ? { show: true, color: TEXT, fontFamily: FONT, fontSize: 19, margin: 5, customValues: ticks, formatter: (v: number) => String(v) }
      : { show: false },
    name,
    nameLocation: "middle",
    nameGap: gap,
    nameTextStyle: { color: TEXT, fontFamily: FONT, fontSize: 21 },
    silent: true,
    ...extra,
  };
}

function buildPanel(i: number, left: number, barLeft: number, stations: Station[]) {
  const top = 31;
  const height = 358;
  const g = i * 2;
  const xBase = i * 3;
  const yBase = i * 4;
  const grid = [
    { left, top, width: 339.5, height, show: true, borderColor: FRAME, borderWidth: 1, backgroundColor: "transparent" },
    { left: barLeft, top, width: 31, height, show: false },
  ];
  const xAxis = [
    boundAxis({ gridIndex: g, min: -20, max: 53, position: "bottom" }, true, "Longitude (deg)", lonTicks, 26),
    boundAxis({ gridIndex: g, min: -20, max: 53, position: "top" }, false, "", lonTicks, 0),
    { type: "value", gridIndex: g + 1, min: 0, max: 1, show: false },
  ];
  const barAxis = (position: string, labels: boolean, name: string) => ({
    type: "value",
    gridIndex: g + 1,
    min: barMin,
    max: barMax,
    position,
    z: 10,
    splitLine: { show: false },
    axisLine: { show: true, onZero: false, lineStyle: { color: FRAME, width: 1 } },
    axisTick: { show: true, inside: true, length: 5, customValues: barTicks, lineStyle: { color: "#1a3a1a" } },
    axisLabel: labels
      ? { show: true, color: TEXT, fontFamily: FONT, fontSize: 19, margin: 4, customValues: barTicks, formatter: (v: number) => v.toFixed(1) }
      : { show: false },
    name,
    nameLocation: "middle",
    nameRotate: -90,
    nameGap: 41,
    nameTextStyle: { color: TEXT, fontFamily: FONT, fontSize: 20.5 },
    silent: true,
  });
  const yAxis = [
    boundAxis({ gridIndex: g, min: -37, max: 40, position: "left", nameRotate: 90 }, true, "Latitude (deg)", latTicks, 36),
    boundAxis({ gridIndex: g, min: -37, max: 40, position: "right" }, false, "", latTicks, 0),
    barAxis("left", false, ""),
    barAxis("right", true, "10-day variability (°C)"),
  ];
  const coastStyle = { symbol: "none", showSymbol: false, lineStyle: { color: "#333", width: 0.8 }, z: 3, silent: true };
  const series = [
    {
      type: "scatter",
      xAxisIndex: xBase,
      yAxisIndex: yBase,
      data: stations,
      symbolSize: (d: number[]) => (d[2] < 3 ? d[2] : d[2] * 1.1 + 0.6),
      itemStyle: { opacity: 1 },
      large: false,
      z: 2,
      silent: true,
    },
    { type: "line", xAxisIndex: xBase, yAxisIndex: yBase, data: coast, ...coastStyle },
    { type: "line", xAxisIndex: xBase, yAxisIndex: yBase, data: madagascar, ...coastStyle },
    {
      type: "custom",
      xAxisIndex: xBase + 2,
      yAxisIndex: yBase + 2,
      data: barBands,
      encode: { y: [0, 1] },
      clip: false,
      silent: true,
      z: 1,
      renderItem: (_: any, api: any) => {
        const lo = api.coord([0, api.value(0)]);
        const hi = api.coord([1, api.value(1)]);
        return {
          type: "rect",
          shape: { x: lo[0], y: hi[1], width: hi[0] - lo[0], height: lo[1] - hi[1] + 0.6 },
          style: { fill: colorAt(api.value(0)) },
        };
      },
    },
  ];
  const visualMap = {
    type: "continuous",
    show: false,
    min: barMin,
    max: barMax,
    dimension: 3,
    seriesIndex: i * 4,
    inRange: { color: colorStops },
  };
  return { grid, xAxis, yAxis, series, visualMap };
}

export default function App() {
  const ref = useRef<HTMLDivElement>(null);
  useEffect(() => {
    document.body.style.margin = "0";
    const chart = echarts.init(ref.current!, undefined, { renderer: "svg" });
    const a = buildPanel(0, 80.25, 431, stationsA);
    const b = buildPanel(1, 631.25, 982, stationsB);
    chart.setOption({
      animation: false,
      backgroundColor: "#fff",
      tooltip: { show: false },
      grid: [...a.grid, ...b.grid],
      xAxis: [...a.xAxis, ...b.xAxis],
      yAxis: [...a.yAxis, ...b.yAxis],
      series: [...a.series, ...b.series],
      visualMap: [a.visualMap, b.visualMap],
      graphic: [
        { type: "text", left: 8, top: 9, style: { text: "A", fontFamily: FONT, fontSize: 21, fontWeight: "bold", fill: "#111" } },
        { type: "text", left: 560, top: 9, style: { text: "B", fontFamily: FONT, fontSize: 21, fontWeight: "bold", fill: "#111" } },
      ],
    });
    return () => chart.dispose();
  }, []);
  return <div ref={ref} style={{ width: 1074, height: 440 }} />;
}
